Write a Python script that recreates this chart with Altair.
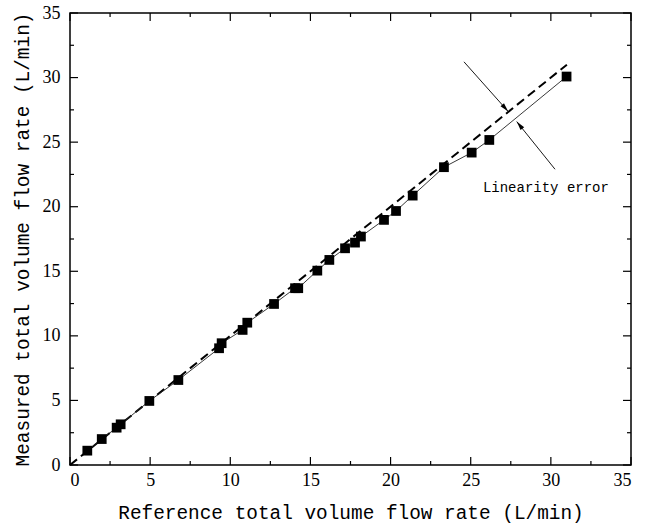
import altair as alt
import pandas as pd

# Data
ref_flow = [1.08, 1.98, 2.91, 3.16, 4.95, 6.76, 9.30, 9.46, 10.77, 11.06, 12.73, 14.04, 14.24,
            15.43, 16.18, 17.16, 17.78, 18.15, 19.59, 20.34, 21.38, 23.33, 25.06, 26.16, 30.98]
meas_flow = [1.11, 2.01, 2.89, 3.15, 4.96, 6.58, 9.04, 9.43, 10.46, 11.02, 12.47, 13.69, 13.69,
             15.05, 15.88, 16.78, 17.22, 17.69, 18.98, 19.67, 20.86, 23.06, 24.19, 25.17, 30.08]

ideal_x = [0, 31]
ideal_y = [0, 31]

# annotation arrows (start -> tip), in data units
arrow_x = [24.58, 30.26]
arrow_y = [31.22, 22.90]
arrow_x2 = [27.34, 27.87]
arrow_y2 = [27.37, 26.59]
arrow_angle = [138.4, 321.1]

label_text = ["Linearity error"]
label_x = [25.76]
label_y = [21.45]

major_ticks = [0, 5, 10, 15, 20, 25, 30, 35]
minor_ticks = [2.5, 7.5, 12.5, 17.5, 22.5, 27.5, 32.5]

W, H = 561, 452
MONO = "Liberation Mono"
SERIF = "Liberation Serif"

xs = alt.Scale(domain=[0, 35], nice=False, zero=False)
ys = alt.Scale(domain=[0, 35], nice=False, zero=False)

pts = pd.DataFrame({"x": ref_flow, "y": meas_flow})
ideal = pd.DataFrame({"x": ideal_x, "y": ideal_y})
arrows = pd.DataFrame({"x": arrow_x, "y": arrow_y, "x2": arrow_x2, "y2": arrow_y2, "angle": arrow_angle})
lab = pd.DataFrame({"t": label_text, "x": label_x, "y": label_y})
maj = pd.DataFrame({"v": major_ticks})
mnr = pd.DataFrame({"v": minor_ticks})

base_x = alt.X("x:Q", scale=xs,
               axis=alt.Axis(values=major_ticks, title="Reference total volume flow rate (L/min)"))
base_y = alt.Y("y:Q", scale=ys,
               axis=alt.Axis(values=major_ticks, title="Measured total volume flow rate (L/min)"))

ideal_line = alt.Chart(ideal).mark_line(color="black", strokeWidth=2, strokeDash=[9, 5]).encode(
    x=base_x, y=base_y)

meas_line = alt.Chart(pts).mark_line(color="#222222", strokeWidth=0.9).encode(
    x=alt.X("x:Q", scale=xs), y=alt.Y("y:Q", scale=ys))

meas_pts = alt.Chart(pts).mark_point(shape="square", filled=True, color="black", size=95, opacity=1).encode(
    x=alt.X("x:Q", scale=xs), y=alt.Y("y:Q", scale=ys))

arrow_lines = alt.Chart(arrows).mark_rule(color="black", strokeWidth=0.9).encode(
    x=alt.X("x:Q", scale=xs), y=alt.Y("y:Q", scale=ys), x2="x2:Q", y2="y2:Q")

arrow_heads = alt.Chart(arrows).mark_point(
    shape="M0,0 L0.26,1 L-0.26,1 Z", filled=True, color="black", size=324, opacity=1
).encode(x=alt.X("x2:Q", scale=xs), y=alt.Y("y2:Q", scale=ys), angle=alt.Angle("angle:Q", scale=None))

label = alt.Chart(lab).mark_text(font=MONO, fontSize=14, align="left", baseline="middle", color="black").encode(
    x=alt.X("x:Q", scale=xs), y=alt.Y("y:Q", scale=ys), text="t:N")

def xticks(df, length):
    b = alt.Chart(df).mark_rule(color="black", strokeWidth=1.2).encode(
        x=alt.X("v:Q", scale=xs), y=alt.value(H), y2=alt.value(H - length))
    t = alt.Chart(df).mark_rule(color="black", strokeWidth=1.2).encode(
        x=alt.X("v:Q", scale=xs), y=alt.value(0), y2=alt.value(length))
    return [b, t]

def yticks(df, length):
    l = alt.Chart(df).mark_rule(color="black", strokeWidth=1.2).encode(
        y=alt.Y("v:Q", scale=ys), x=alt.value(0), x2=alt.value(length))
    r = alt.Chart(df).mark_rule(color="black", strokeWidth=1.2).encode(
        y=alt.Y("v:Q", scale=ys), x=alt.value(W), x2=alt.value(W - length))
    return [l, r]

tick_layers = xticks(maj, 8) + xticks(mnr, 4) + yticks(maj, 8) + yticks(mnr, 4)

chart = alt.layer(
    ideal_line, meas_line, meas_pts, arrow_lines, arrow_heads, label, *tick_layers
).properties(
    width=W, height=H,
    autosize=alt.AutoSizeParams(type="none"),
    padding={"left": 70, "top": 13, "right": 24, "bottom": 62},
    background="white",
).configure_view(
    stroke="black", strokeWidth=1.5
).configure_axis(
    domain=False, ticks=False, grid=False,
    labelFont=SERIF, labelFontSize=18, labelColor="black",
    titleFont=MONO, titleFontSize=19.4, titleFontWeight="normal", titleColor="black",
).configure_axisX(
    labelPadding=6, titlePadding=14
).configure_axisY(
    labelPadding=10, titlePadding=10
)

chart.save("out.html", embed_options={"renderer": "svg", "actions": False})
